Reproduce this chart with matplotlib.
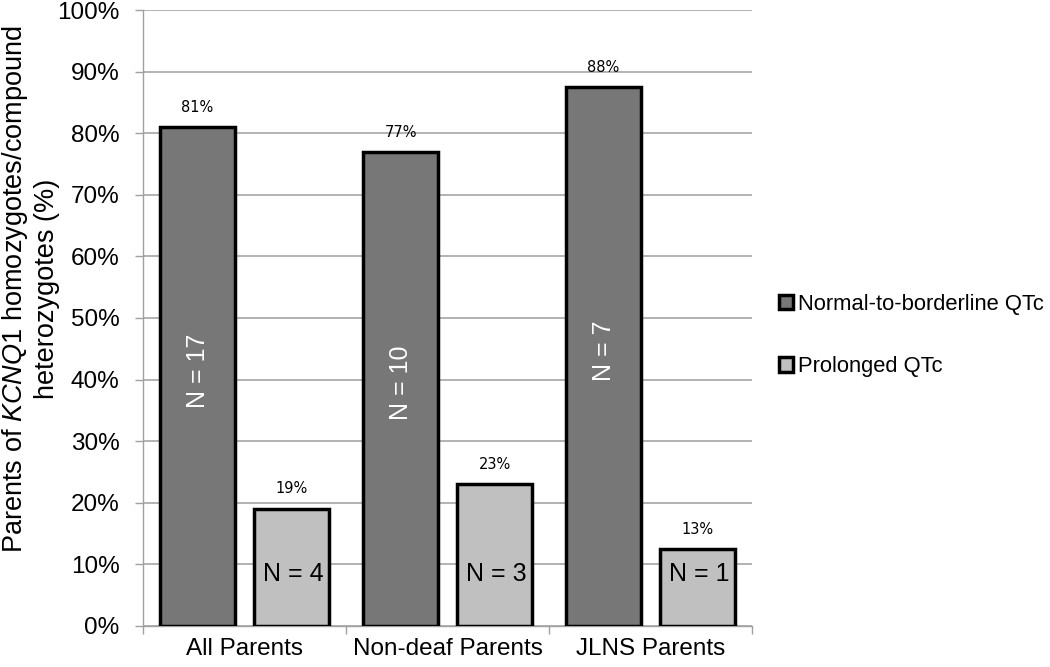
import matplotlib
matplotlib.use("Agg")
import matplotlib.pyplot as plt
import numpy as np
from decimal import Decimal, ROUND_HALF_UP
from matplotlib.ticker import PercentFormatter, FixedLocator

plt.rcParams['font.family'] = ['Liberation Sans', 'DejaVu Sans']
plt.rcParams['mathtext.fontset'] = 'custom'
plt.rcParams['mathtext.it'] = 'Liberation Sans:italic'
plt.rcParams['mathtext.rm'] = 'Liberation Sans'

grupos = ['All Parents', 'Non-deaf Parents', 'JLNS Parents']
normal = [17 / 21, 10 / 13, 7 / 8]
prolongado = [4 / 21, 3 / 13, 1 / 8]
n_normal = [17, 10, 7]
n_prolongado = [4, 3, 1]
series = ['Normal-to-borderline QTc', 'Prolonged QTc']


def pct(v):
    # redondeo tipo Excel (0.5 hacia arriba)
    return str(Decimal(str(v * 100)).quantize(Decimal('1'), rounding=ROUND_HALF_UP)) + '%'


x = np.arange(len(grupos))
width = 0.374
off = 0.2315

fig = plt.figure(figsize=(10.5, 6.67), dpi=100)
ax = fig.add_axes([0.1362, 0.0615, 0.58, 0.9235])

b1 = ax.bar(x - off, normal, width, color='#777777', edgecolor='black', linewidth=2.5, zorder=3, label=series[0])
b2 = ax.bar(x + off, prolongado, width, color='#c0c0c0', edgecolor='black', linewidth=2.5, zorder=3, label=series[1])

for xi, v in zip(x - off, normal):
    ax.text(xi, v + 0.02, pct(v), ha='center', va='bottom', fontsize=10.5, family='DejaVu Sans')
for xi, v in zip(x + off, prolongado):
    ax.text(xi, v + 0.02, pct(v), ha='center', va='bottom', fontsize=10.5, family='DejaVu Sans')

for xi, n, v in zip(x - off, n_normal, normal):
    ax.text(xi, v / 2 + 0.01, f'N = {n}', ha='center', va='center', rotation=90, color='white', fontsize=18)
for xi, n in zip(x + off, n_prolongado):
    ax.text(xi + 0.01, 0.085, f'N = {n}', ha='center', va='center', color='black', fontsize=18)

ax.set_xlim(-0.5, 2.5)
ax.set_ylim(0, 1)
ax.yaxis.set_major_locator(FixedLocator(np.arange(0, 1.01, 0.1)))
ax.yaxis.set_major_formatter(PercentFormatter(1.0, decimals=0))
ax.set_xticks(x)
ax.set_xticklabels(grupos, fontsize=17.5)
ax.xaxis.set_minor_locator(FixedLocator([-0.5, 0.5, 1.5, 2.5]))
ax.tick_params(axis='x', which='major', length=0, pad=9)
ax.tick_params(axis='x', which='minor', length=6, color='#a0a0a0', width=1)
ax.tick_params(axis='y', labelsize=17.5, length=6, color='#a0a0a0', width=1, pad=11)
ax.grid(axis='y', color='#a6a6a6', linewidth=1.2, zorder=0)
for s in ['top', 'right']:
    ax.spines[s].set_visible(False)
for s in ['left', 'bottom']:
    ax.spines[s].set_color('#a0a0a0')
    ax.spines[s].set_linewidth(1)

fig.text(30 / 1050, 0.567, 'Parents of $\\it{KCNQ1}$ homozygotes/compound\nheterozygotes (%)',
         rotation=90, ha='center', va='center', multialignment='center', fontsize=19.5)

fig.legend(handles=[b1, b2], labels=series, loc='center left', bbox_to_anchor=(0.742, 0.497),
           frameon=False, fontsize=15.8, handlelength=0.64, handleheight=0.64, handletextpad=0.2,
           labelspacing=1.9, borderpad=0, borderaxespad=0)

fig.savefig('out.png', dpi=100)
